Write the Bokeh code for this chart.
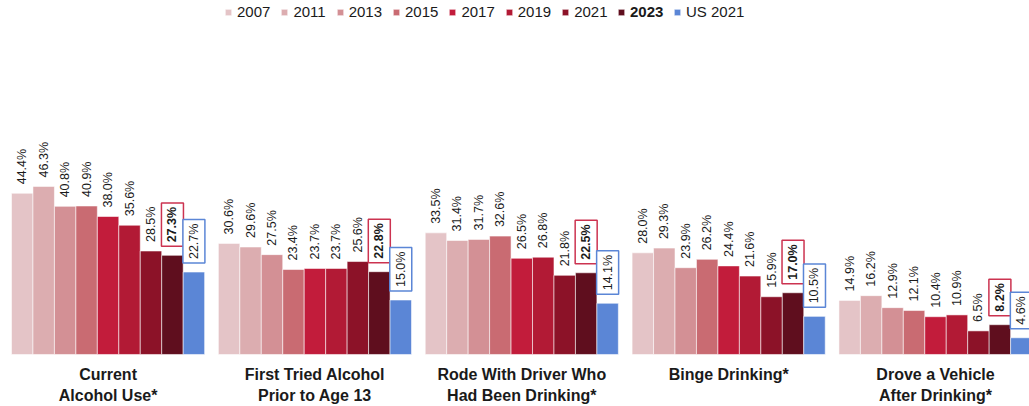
from bokeh.plotting import figure
from bokeh.models import Range1d, ColumnDataSource, Legend, LegendItem
from bokeh.core.properties import value
from bokeh.embed import file_html
from bokeh.resources import INLINE

categories = ["Current\nAlcohol Use*", "First Tried Alcohol\nPrior to Age 13",
              "Rode With Driver Who\nHad Been Drinking*", "Binge Drinking*",
              "Drove a Vehicle\nAfter Drinking*"]
years = ["2007", "2011", "2013", "2015", "2017", "2019", "2021", "2023", "US 2021"]
v2007 = [44.4, 30.6, 33.5, 28.0, 14.9]
v2011 = [46.3, 29.6, 31.4, 29.3, 16.2]
v2013 = [40.8, 27.5, 31.7, 23.9, 12.9]
v2015 = [40.9, 23.4, 32.6, 26.2, 12.1]
v2017 = [38.0, 23.7, 26.5, 24.4, 10.4]
v2019 = [35.6, 23.7, 26.8, 21.6, 10.9]
v2021 = [28.5, 25.6, 21.8, 15.9, 6.5]
v2023 = [27.3, 22.8, 22.5, 17.0, 8.2]
vUS2021 = [22.7, 15.0, 14.1, 10.5, 4.6]
series = [v2007, v2011, v2013, v2015, v2017, v2019, v2021, v2023, vUS2021]
colors = ["#e4c4c7", "#dcadb0", "#d39095", "#c96b72", "#c21c3b",
          "#b21a35", "#8c1228", "#5f0e1e", "#5b86d6"]

FONT = "Liberation Sans"
GROUP_PITCH = 9.64

p = figure(width=1029, height=406, output_backend="svg", toolbar_location=None,
           x_range=Range1d(-1.013, 46.94), y_range=Range1d(-14.33, 97.5),
           min_border=0, outline_line_color=None)
p.axis.visible = False
p.grid.visible = False
p.background_fill_color = "white"

renderers = []
for i, (yr, vals, col) in enumerate(zip(years, series, colors)):
    xs = [g * GROUP_PITCH + i for g in range(len(categories))]
    src = ColumnDataSource(dict(x=xs, top=vals,
                                lab=[f"{v:.1f}%" for v in vals]))
    r = p.vbar(x="x", top="top", width=1, bottom=0, source=src,
               fill_color=col, line_color="white", line_alpha=0.55, line_width=1)
    renderers.append(r)
    kw = dict(x="x", y="top", text="lab", source=src, angle=1.5708,
              text_align="left", text_baseline="middle", text_font=value(FONT),
              text_font_size="12.5px", text_color="#1a1a1a", y_offset=-9)
    if yr == "2023":
        p.text(**kw, text_font_style="bold", padding=4,
               border_line_color="#cc3350", border_line_width=1.5,
               background_fill_color="white")
    elif yr == "US 2021":
        p.text(**kw, padding=4, border_line_color="#5b86d6",
               border_line_width=1.5, background_fill_color="white")
    else:
        p.text(**kw)

cat_src = ColumnDataSource(dict(
    x=[g * GROUP_PITCH + 4 for g in range(len(categories))],
    y=[0] * len(categories), t=categories))
p.text(x="x", y="y", text="t", source=cat_src, text_align="center",
       text_baseline="top", text_font=value(FONT), text_font_size="16px",
       text_font_style="bold", text_color="#1a1a1a", y_offset=12,
       text_line_height=1.2)

def mk_legend(items, loc, bold=False):
    lg = Legend(items=items, orientation="horizontal", location=loc,
                padding=0, margin=0, spacing=10, label_standoff=5,
                glyph_width=8, glyph_height=8, label_height=12,
                label_text_font=FONT, label_text_font_size="15px",
                label_text_color="#1a1a1a",
                label_text_font_style="bold" if bold else "normal",
                background_fill_alpha=0, border_line_alpha=0)
    p.add_layout(lg, "center")

mk_legend([LegendItem(label=years[i], renderers=[renderers[i]]) for i in range(7)],
          (224, 386))
mk_legend([LegendItem(label=years[7], renderers=[renderers[7]])], (617, 386), bold=True)
mk_legend([LegendItem(label=years[8], renderers=[renderers[8]])], (673, 386))

open("out.html", "w").write(file_html(p, INLINE))
